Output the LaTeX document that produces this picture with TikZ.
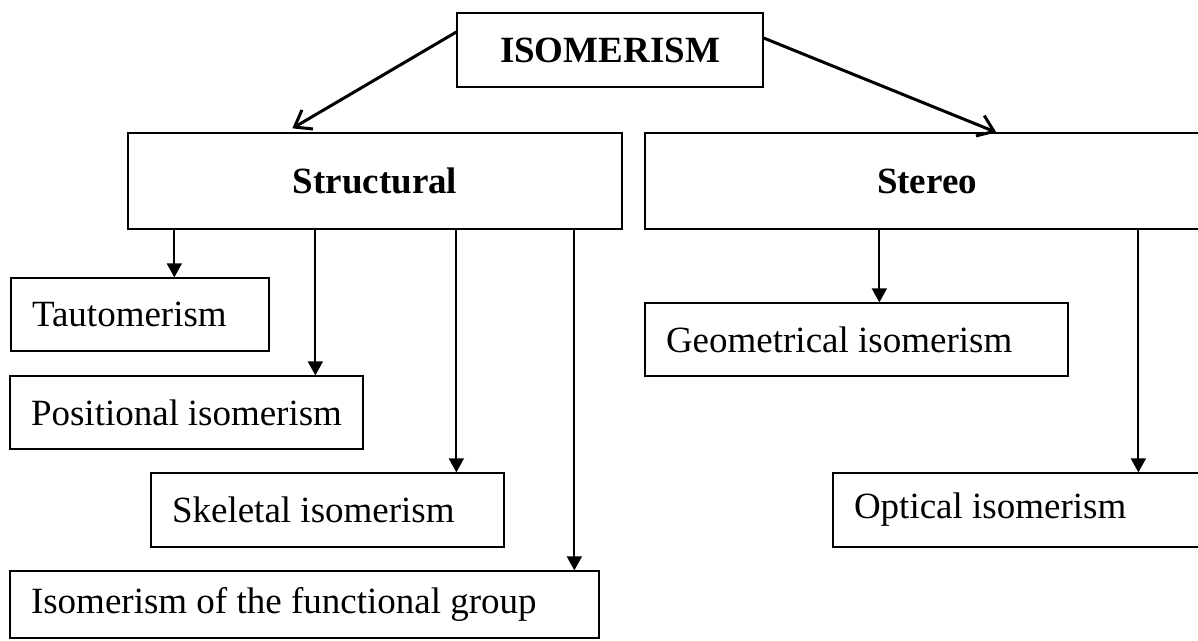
\documentclass[tikz,border=0pt]{standalone}
\usepackage{fontspec}
\setmainfont{Liberation Serif}
\usetikzlibrary{arrows.meta}

\begin{document}
\begin{tikzpicture}[x=1pt, y=-1pt,
  every node/.style={draw, line width=1.3pt, font=\fontsize{37}{44}\selectfont, inner sep=0pt},
  headbox/.style={font=\fontsize{37}{44}\selectfont\bfseries},
  leafbox/.style={align=flush left, inner xsep=21pt},
  down/.style={line width=1.8pt, -{Triangle[length=14pt, width=15pt]}},
  split/.style={line width=3pt, -{Straight Barb[length=15pt, width=22pt]}}]

\useasboundingbox (0,0) rectangle (1198,640);
\clip (0,0) rectangle (1198,640);

% Top of the tree
\node[headbox, minimum width=306pt, minimum height=74pt] (iso) at (610, 50) {ISOMERISM};

% Two main kinds
\node[headbox, minimum width=494pt, minimum height=96pt] (struct) at (375, 181) {Structural};
\node[headbox, minimum width=564pt, minimum height=96pt] (stereo) at (927, 181) {Stereo};

% Structural kinds
\node[leafbox, text width=216pt, minimum height=73pt] (taut) at (140, 314.5) {Tautomerism};
\node[leafbox, text width=311pt, minimum height=73pt] (posit) at (186.5, 412.5) {Positional isomerism};
\node[leafbox, text width=311pt, minimum height=74pt] (skel) at (327.5, 510) {Skeletal isomerism};
\node[leafbox, text width=547pt, minimum height=67pt] (func) at (304.5, 604.5) {Isomerism of the functional group};

% Stereo kinds
\node[leafbox, text width=381pt, minimum height=73pt] (geom) at (856.5, 339.5) {Geometrical isomerism};
\node[leafbox, text width=335pt, minimum height=74pt] (optic) at (1021.5, 510) {Optical isomerism};

% Arrows from the top
\draw[split] ([yshift=18pt]iso.west) -- ([xshift=165pt, yshift=4pt]struct.north west);
\draw[split] ([yshift=12pt]iso.east) -- ([xshift=352pt]stereo.north west);

% Arrows down from Structural
\foreach \dx/\target in {47/taut, 188/posit, 329/skel, 447/func} {
    \draw[down] ([xshift=\dx pt]struct.south west) coordinate (from) -- (from |- \target.north);
}

% Arrows down from Stereo
\foreach \dx/\target in {235/geom, 494/optic} {
    \draw[down] ([xshift=\dx pt]stereo.south west) coordinate (from) -- (from |- \target.north);
}

\end{tikzpicture}
\end{document}
